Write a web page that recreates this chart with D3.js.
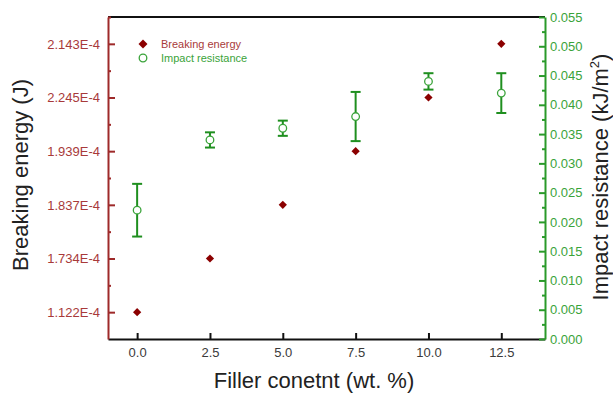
<!DOCTYPE html>
<html>
<head>
<meta charset="utf-8">
<script src="https://cdn.jsdelivr.net/npm/d3@7"></script>
<style>
body { margin: 0; background: #fff; }
text { font-family: "Liberation Sans", Arial, sans-serif; }
</style>
</head>
<body>
<div id="chart"></div>
<script>
var filler = [0, 2.5, 5, 7.5, 10, 12.5];
var breakingEnergy = [1.122e-4, 1.734e-4, 1.837e-4, 1.939e-4, 2.245e-4, 2.143e-4];
var impact = [0.022, 0.034, 0.036, 0.038, 0.044, 0.042];
var impactErr = [0.0045, 0.0013, 0.0013, 0.0042, 0.0014, 0.0034];
var xTicks = [0, 2.5, 5, 7.5, 10, 12.5];
var impactTicks = [0, 0.005, 0.01, 0.015, 0.02, 0.025, 0.03, 0.035, 0.04, 0.045, 0.05, 0.055];
var legendLabels = ["Breaking energy", "Impact resistance"];

var red = "#9e2a2a", redText = "#a83a3a", green = "#2a9a2a", greenText = "#3aa33a";
var font = "Liberation Sans, Arial, sans-serif";

var margin = {top: 17, right: 68, bottom: 55, left: 108};
var width = 613 - margin.left - margin.right;
var height = 394 - margin.top - margin.bottom;

var svg = d3.select("#chart").append("svg")
  .attr("width", 613)
  .attr("height", 394)
  .append("g")
  .attr("transform", "translate(" + margin.left + "," + margin.top + ")");

function fmtE(v) { return (v * 1e4).toFixed(3) + "E-4"; }
var energyLabels = breakingEnergy.map(fmtE);

var x = d3.scaleLinear().domain([-1, 14]).range([0, width]);
var yR = d3.scaleLinear().domain([0, 0.055]).range([height, 0]);
// left axis: one label per point, evenly spaced
var yL = d3.scalePoint().domain(energyLabels).range([height, 0]).padding(0.5);

// top border
svg.append("line")
  .attr("x1", 0).attr("x2", width).attr("y1", 0).attr("y2", 0)
  .attr("stroke", "#111").attr("stroke-width", 2);

// bottom axis
var gx = svg.append("g")
  .attr("transform", "translate(0," + height + ")")
  .call(d3.axisBottom(x).tickValues(xTicks).tickSizeInner(-6).tickSizeOuter(0)
    .tickPadding(9).tickFormat(d3.format(".1f")))
  .attr("font-family", font).attr("font-size", 13);
gx.selectAll("path, line").attr("stroke", "#111").attr("stroke-width", 2);
gx.selectAll("text").attr("fill", "#3a3a3a");

// left axis
var mids = [];
for (var i = 0; i < energyLabels.length; i++) {
  mids.push(yL(energyLabels[i]) - yL.step() / 2);
}
var gyLm = svg.append("g").call(d3.axisLeft(d3.scaleIdentity()).tickValues(mids).tickSize(-3).tickFormat(""));
gyLm.select(".domain").remove();
gyLm.selectAll("line").attr("stroke", red).attr("stroke-width", 2);

var gyL = svg.append("g")
  .call(d3.axisLeft(yL).tickSizeInner(-7).tickSizeOuter(0).tickPadding(8))
  .attr("font-family", font).attr("font-size", 13);
gyL.selectAll("path, line").attr("stroke", red).attr("stroke-width", 2);
gyL.selectAll("text").attr("fill", redText);

// right axis
var rMinor = impactTicks.slice(1).map(function(d) { return d - 0.0025; });
var gyRm = svg.append("g").attr("transform", "translate(" + width + ",0)")
  .call(d3.axisRight(yR).tickValues(rMinor).tickSize(-3).tickFormat(""));
gyRm.select(".domain").remove();
gyRm.selectAll("line").attr("stroke", green).attr("stroke-width", 2);

var gyR = svg.append("g").attr("transform", "translate(" + width + ",0)")
  .call(d3.axisRight(yR).tickValues(impactTicks).tickSizeInner(-6).tickSizeOuter(0)
    .tickPadding(5).tickFormat(d3.format(".3f")))
  .attr("font-family", font).attr("font-size", 13);
gyR.selectAll("path, line").attr("stroke", green).attr("stroke-width", 2);
gyR.selectAll("text").attr("fill", greenText);

// error bars
var eb = svg.selectAll(".eb").data(filler).enter().append("g").attr("class", "eb");
eb.append("line")
  .attr("x1", function(d) { return x(d); }).attr("x2", function(d) { return x(d); })
  .attr("y1", function(d, i) { return yR(impact[i] - impactErr[i]); })
  .attr("y2", function(d, i) { return yR(impact[i] + impactErr[i]); })
  .attr("stroke", "#1f8f1f").attr("stroke-width", 2);
[-1, 1].forEach(function(s) {
  eb.append("line")
    .attr("x1", function(d) { return x(d) - 5; }).attr("x2", function(d) { return x(d) + 5; })
    .attr("y1", function(d, i) { return yR(impact[i] + s * impactErr[i]); })
    .attr("y2", function(d, i) { return yR(impact[i] + s * impactErr[i]); })
    .attr("stroke", "#1f8f1f").attr("stroke-width", 2);
});

// breaking energy diamonds
var diamond = d3.symbol().type(d3.symbolSquare).size(34);
svg.selectAll(".be").data(filler).enter().append("path")
  .attr("class", "be")
  .attr("d", diamond)
  .attr("transform", function(d, i) {
    return "translate(" + x(d) + "," + yL(energyLabels[i]) + ") rotate(45)";
  })
  .attr("fill", "#8b0000");

// impact circles
svg.selectAll(".ir").data(filler).enter().append("circle")
  .attr("class", "ir")
  .attr("cx", function(d) { return x(d); })
  .attr("cy", function(d, i) { return yR(impact[i]); })
  .attr("r", 3.8)
  .attr("fill", "#fff").attr("stroke", greenText).attr("stroke-width", 1.3);

// legend
var lg = svg.append("g").attr("transform", "translate(35,27)");
lg.append("path").attr("d", d3.symbol().type(d3.symbolSquare).size(40)).attr("transform", "rotate(45)").attr("fill", "#8b0000");
lg.append("circle").attr("cy", 14).attr("r", 3.8)
  .attr("fill", "#fff").attr("stroke", greenText).attr("stroke-width", 1.3);
lg.selectAll(".lt").data(legendLabels).enter().append("text")
  .attr("x", 18).attr("y", function(d, i) { return i * 14 + 4; })
  .attr("font-size", 11)
  .attr("fill", function(d, i) { return i == 0 ? redText : greenText; })
  .text(function(d) { return d; });

// titles
svg.append("text")
  .attr("x", 206).attr("y", 371)
  .attr("text-anchor", "middle").attr("font-size", 22).attr("fill", "#222")
  .text("Filler conetnt (wt. %)");

svg.append("text")
  .attr("transform", "translate(-80,158) rotate(-90)")
  .attr("text-anchor", "middle").attr("font-size", 22).attr("fill", "#222")
  .text("Breaking energy (J)");

var rt = svg.append("text")
  .attr("transform", "translate(" + (width + 63) + ",160) rotate(-90)")
  .attr("text-anchor", "middle").attr("font-size", 22).attr("fill", "#222");
rt.append("tspan").text("Impact resistance (kJ/m");
rt.append("tspan").attr("font-size", 13).attr("dy", -9).text("2");
rt.append("tspan").attr("dy", 9).text(")");
</script>
</body>
</html>
